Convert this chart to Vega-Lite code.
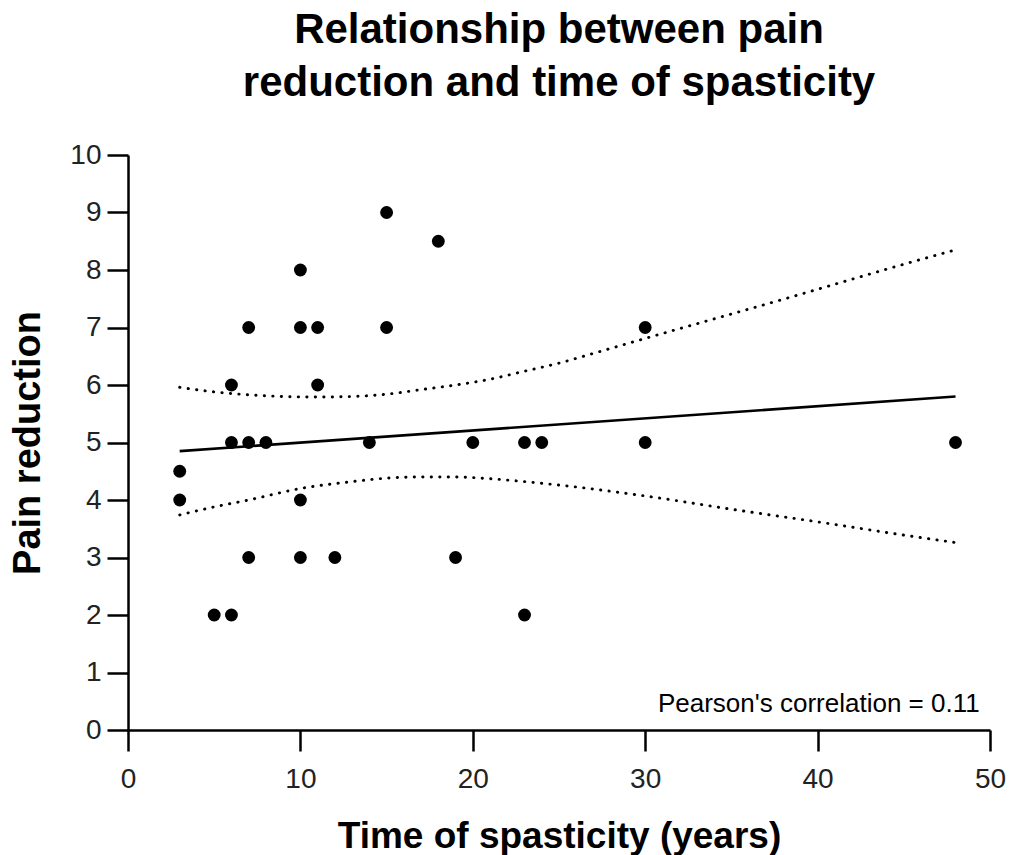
{
  "$schema": "https://vega.github.io/schema/vega-lite/v6.json",
  "autosize": "none",
  "width": 862,
  "height": 575,
  "padding": {"left": 128, "top": 155, "right": 20, "bottom": 125},
  "background": "white",
  "title": {
    "text": ["Relationship between pain", "reduction and time of spasticity"],
    "font": "Liberation Sans",
    "fontSize": 42,
    "fontWeight": "bold",
    "lineHeight": 53,
    "color": "black",
    "anchor": "middle",
    "frame": "group",
    "offset": 36
  },
  "datasets": {
    "points": [
      {"time": 3, "pain": 4.5}, {"time": 3, "pain": 4},
      {"time": 5, "pain": 2}, {"time": 6, "pain": 2},
      {"time": 6, "pain": 6}, {"time": 6, "pain": 5},
      {"time": 7, "pain": 7}, {"time": 7, "pain": 5}, {"time": 7, "pain": 3},
      {"time": 8, "pain": 5},
      {"time": 10, "pain": 8}, {"time": 10, "pain": 7}, {"time": 10, "pain": 4}, {"time": 10, "pain": 3},
      {"time": 11, "pain": 7}, {"time": 11, "pain": 6},
      {"time": 12, "pain": 3},
      {"time": 14, "pain": 5},
      {"time": 15, "pain": 9}, {"time": 15, "pain": 7},
      {"time": 18, "pain": 8.5},
      {"time": 19, "pain": 3},
      {"time": 20, "pain": 5},
      {"time": 23, "pain": 5}, {"time": 23, "pain": 2},
      {"time": 24, "pain": 5},
      {"time": 30, "pain": 7}, {"time": 30, "pain": 5},
      {"time": 48, "pain": 5}
    ],
    "fit": [
      {"time": 3, "pain": 4.85},
      {"time": 48, "pain": 5.8}
    ],
    "bands": [
      {"curve": "upper", "time": 3, "pain": 5.96},
      {"curve": "upper", "time": 5, "pain": 5.88},
      {"curve": "upper", "time": 7, "pain": 5.83},
      {"curve": "upper", "time": 9, "pain": 5.8},
      {"curve": "upper", "time": 11, "pain": 5.79},
      {"curve": "upper", "time": 13, "pain": 5.8},
      {"curve": "upper", "time": 15, "pain": 5.84},
      {"curve": "upper", "time": 17, "pain": 5.92},
      {"curve": "upper", "time": 19, "pain": 6.0},
      {"curve": "upper", "time": 21, "pain": 6.1},
      {"curve": "upper", "time": 23, "pain": 6.24},
      {"curve": "upper", "time": 25, "pain": 6.38},
      {"curve": "upper", "time": 27, "pain": 6.55},
      {"curve": "upper", "time": 30, "pain": 6.81},
      {"curve": "upper", "time": 34, "pain": 7.15},
      {"curve": "upper", "time": 38, "pain": 7.49},
      {"curve": "upper", "time": 42, "pain": 7.84},
      {"curve": "upper", "time": 45, "pain": 8.1},
      {"curve": "upper", "time": 48, "pain": 8.35},
      {"curve": "lower", "time": 3, "pain": 3.74},
      {"curve": "lower", "time": 5, "pain": 3.88},
      {"curve": "lower", "time": 7, "pain": 4.0},
      {"curve": "lower", "time": 10, "pain": 4.2},
      {"curve": "lower", "time": 13, "pain": 4.32},
      {"curve": "lower", "time": 15, "pain": 4.38},
      {"curve": "lower", "time": 17, "pain": 4.4},
      {"curve": "lower", "time": 19, "pain": 4.4},
      {"curve": "lower", "time": 21, "pain": 4.37},
      {"curve": "lower", "time": 23, "pain": 4.32},
      {"curve": "lower", "time": 25, "pain": 4.26},
      {"curve": "lower", "time": 30, "pain": 4.07},
      {"curve": "lower", "time": 35, "pain": 3.84},
      {"curve": "lower", "time": 40, "pain": 3.62},
      {"curve": "lower", "time": 45, "pain": 3.39},
      {"curve": "lower", "time": 48, "pain": 3.26}
    ]
  },
  "layer": [
    {
      "data": {"name": "bands"},
      "mark": {"type": "line", "color": "black", "strokeWidth": 2.9, "strokeCap": "round", "strokeDash": [0.3, 8.2], "interpolate": "monotone"},
      "encoding": {
        "x": {"field": "time", "type": "quantitative"},
        "y": {"field": "pain", "type": "quantitative"},
        "detail": {"field": "curve"}
      }
    },
    {
      "data": {"name": "fit"},
      "mark": {"type": "line", "color": "black", "strokeWidth": 2.6},
      "encoding": {
        "x": {"field": "time", "type": "quantitative"},
        "y": {"field": "pain", "type": "quantitative"}
      }
    },
    {
      "data": {"name": "points"},
      "mark": {"type": "circle", "color": "black", "opacity": 1, "size": 165},
      "encoding": {
        "x": {
          "field": "time",
          "type": "quantitative",
          "scale": {"domain": [0, 50], "nice": false, "zero": false},
          "axis": {
            "title": "Time of spasticity (years)",
            "values": [0, 10, 20, 30, 40, 50],
            "format": "d",
            "grid": false,
            "domainColor": "black",
            "domainWidth": 2.5,
            "tickColor": "black",
            "tickWidth": 2.5,
            "tickSize": 21,
            "labelFont": "Liberation Sans",
            "labelFontSize": 28,
            "labelColor": "#222222",
            "labelPadding": 14,
            "labelFlush": false,
            "titleFont": "Liberation Sans",
            "titleFontSize": 37,
            "titleFontWeight": "bold",
            "titleColor": "black",
            "titlePadding": 25
          }
        },
        "y": {
          "field": "pain",
          "type": "quantitative",
          "scale": {"domain": [0, 10], "nice": false, "zero": false},
          "axis": {
            "title": "Pain reduction",
            "values": [0, 1, 2, 3, 4, 5, 6, 7, 8, 9, 10],
            "format": "d",
            "grid": false,
            "domainColor": "black",
            "domainWidth": 2.5,
            "tickColor": "black",
            "tickWidth": 2.5,
            "tickSize": 21,
            "labelFont": "Liberation Sans",
            "labelFontSize": 28,
            "labelColor": "#222222",
            "labelPadding": 6,
            "labelFlush": false,
            "titleFont": "Liberation Sans",
            "titleFontSize": 38,
            "titleFontWeight": "bold",
            "titleColor": "black",
            "titlePadding": 22
          }
        }
      }
    },
    {
      "data": {"values": [{"label": "Pearson's correlation = 0.11"}]},
      "mark": {"type": "text", "align": "right", "baseline": "bottom", "font": "Liberation Sans", "fontSize": 26, "color": "black"},
      "encoding": {
        "x": {"datum": 49.4, "type": "quantitative"},
        "y": {"datum": 0.22, "type": "quantitative"},
        "text": {"field": "label", "type": "nominal"}
      }
    }
  ],
  "resolve": {"axis": {"x": "shared", "y": "shared"}},
  "config": {"view": {"stroke": null}}
}
